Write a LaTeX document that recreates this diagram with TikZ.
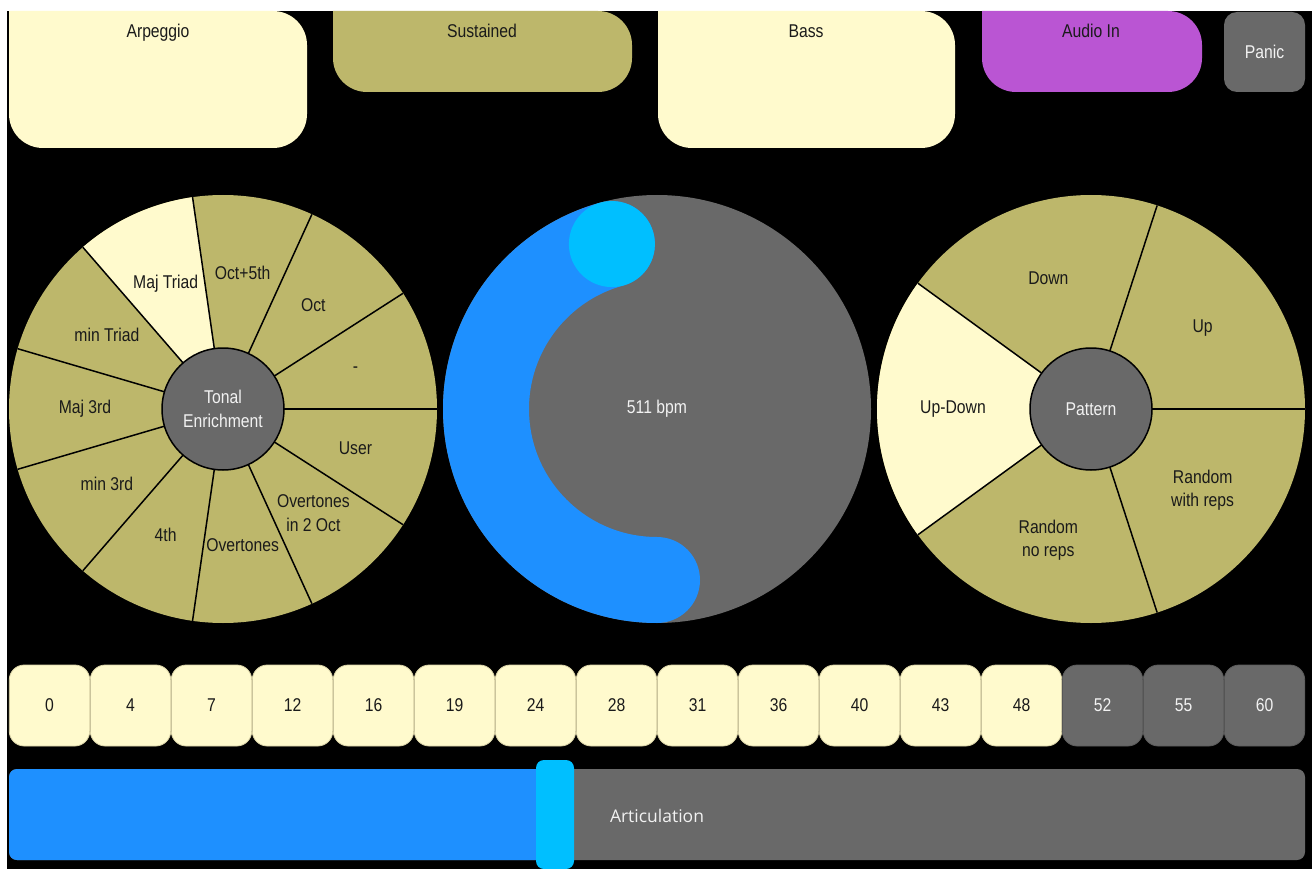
\documentclass[tikz,border=0pt]{standalone}
\usepackage{fontspec}
\setmainfont{Liberation Sans}[FakeStretch=0.85]
\newfontfamily\artfont{Open Sans}
\definecolor{cream}{HTML}{FFFACD}
\definecolor{khaki}{HTML}{BDB76B}
\definecolor{dgray}{HTML}{696969}
\definecolor{orchid}{HTML}{BA55D3}
\definecolor{dodger}{HTML}{1E90FF}
\definecolor{deepsky}{HTML}{00BFFF}
\definecolor{lighttext}{HTML}{F2F2F2}
\definecolor{darktext}{HTML}{1A1A1A}
\definecolor{creamedge}{HTML}{D9D2A6}
\definecolor{grayedge}{HTML}{5C5C5C}
\tikzset{
  txt/.style={font=\fontsize{18.5}{23.5}\selectfont, text=darktext, align=center, inner sep=0pt},
  ltxt/.style={txt, text=lighttext},
  hub/.style={circle, minimum size=122pt, inner sep=0pt, fill=dgray, draw=black, line width=1.5pt, ltxt},
  segline/.style={draw=black, line width=1.5pt},
  btncream/.style={rectangle, rounded corners=15pt, minimum width=80.5pt, minimum height=81pt, inner sep=0pt, fill=cream, draw=creamedge, line width=0.8pt, txt},
  btngray/.style={btncream, fill=dgray, draw=grayedge, text=lighttext},
  toplbl/.style={txt, anchor=base},
}
\begin{document}
\begin{tikzpicture}[x=1pt,y=-1pt]
\useasboundingbox (0,0) rectangle (1312,869);
\fill[white] (0,0) rectangle (1312,869);
\fill[black] (7,11) rectangle (1312,869);

% top buttons
\fill[cream] (9,11) [rounded corners=34pt] -- (9,148) -- (307,148) -- (307,11) [sharp corners] -- cycle;
\fill[khaki] (333,11) [rounded corners=34pt] -- (333,92) -- (632,92) -- (632,11) [sharp corners] -- cycle;
\fill[cream] (658,11) [rounded corners=34pt] -- (658,148) -- (955,148) -- (955,11) [sharp corners] -- cycle;
\fill[orchid] (982,11) [rounded corners=34pt] -- (982,92) -- (1202,92) -- (1202,11) [sharp corners] -- cycle;
\node[toplbl] (arp) at (158,38) {Arpeggio};
\node[toplbl] (sus) at (482,38) {Sustained};
\node[toplbl] (bass) at (806,38) {Bass};
\node[toplbl] (audio) at (1091,38) {Audio In};
\node[rectangle, rounded corners=13pt, fill=dgray, minimum width=81pt, minimum height=80pt, ltxt] (panic) at (1264.5,52) {Panic};

% left wheel
\begin{scope}[shift={(223,409)}, yscale=-1]
  \fill[khaki] (0,0) circle[radius=214];
  \fill[cream] (0,0) -- (98.1818:214) arc[start angle=98.1818, end angle=130.9091, radius=214] -- cycle;
  \foreach \i in {0,...,10} {
    \draw[segline] (0,0) -- ({\i*360/11}:214);
  }
  \node[hub] (tonal) at (0,0) {Tonal\\Enrichment};
  \node[txt] (l0) at (16.36:138) {-};
  \node[txt] (l1) at (49.09:138) {Oct};
  \node[txt] (l2) at (81.82:138) {Oct+5th};
  \node[txt] (l3) at (114.55:138) {Maj Triad};
  \node[txt] (l4) at (147.27:138) {min Triad};
  \node[txt] (l5) at (180:138) {Maj 3rd};
  \node[txt] (l6) at (212.73:138) {min 3rd};
  \node[txt] (l7) at (245.45:138) {4th};
  \node[txt] (l8) at (278.18:138) {Overtones};
  \node[txt] (l9) at (310.91:138) {Overtones\\in 2 Oct};
  \node[txt] (l10) at (343.64:138) {User};
\end{scope}

% middle knob
\begin{scope}[shift={(657,409)}, yscale=-1]
  \fill[dgray] (0,0) circle[radius=214];
  \draw[dodger, line width=86pt, line cap=round] (270:171) arc[start angle=270, end angle=105.3, radius=171];
  \fill[deepsky] (105.3:171) circle[radius=43];
  \node[ltxt] (bpm) at (0,0) {511 bpm};
\end{scope}

% right wheel
\begin{scope}[shift={(1091,409)}, yscale=-1]
  \fill[khaki] (0,0) circle[radius=214];
  \fill[cream] (0,0) -- (144:214) arc[start angle=144, end angle=216, radius=214] -- cycle;
  \foreach \a in {0,72,144,216,288} {
    \draw[segline] (0,0) -- (\a:214);
  }
  \node[hub] (pattern) at (0,0) {Pattern};
  \node[txt] (r0) at (36:138) {Up};
  \node[txt] (r1) at (108:138) {Down};
  \node[txt] (r2) at (180:138) {Up-Down};
  \node[txt] (r3) at (252:138) {Random\\no reps};
  \node[txt] (r4) at (324:138) {Random\\with reps};
\end{scope}

% interval buttons
\foreach \v [count=\i from 0] in {0,4,7,12,16,19,24,28,31,36,40,43,48} {
  \node[btncream] (b\i) at ({49.5+81*\i},705.5) {\v};
}
\foreach \v [count=\i from 13] in {52,55,60} {
  \node[btngray] (b\i) at ({49.5+81*\i},705.5) {\v};
}

% articulation slider
\fill[dgray, rounded corners=8pt] (9,769) rectangle (1305,860);
\fill[dodger, rounded corners=8pt] (9,769) rectangle (560,860);
\fill[deepsky, rounded corners=8pt] (536,760) rectangle (574,869);
\node[font=\artfont\fontsize{17.5}{20}\selectfont, text=lighttext, inner sep=0pt] (art) at (657,816) {Articulation};
\end{tikzpicture}
\end{document}
